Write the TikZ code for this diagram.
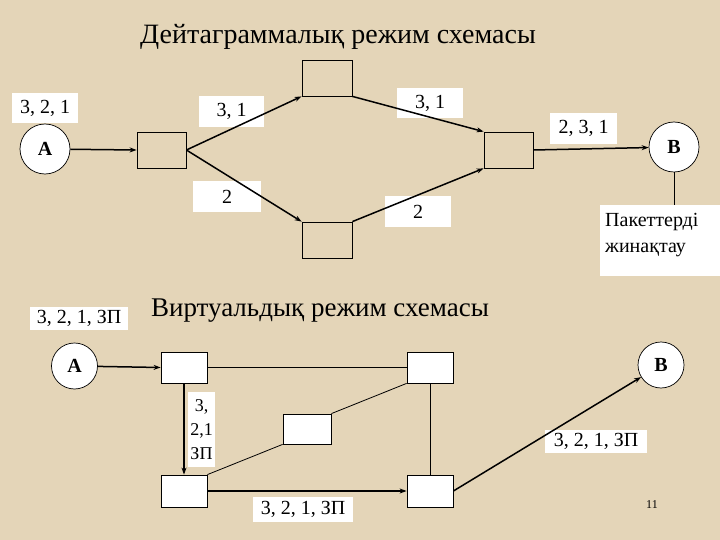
\documentclass[tikz,border=0pt]{standalone}
\usepackage{fontspec}
\setmainfont{Liberation Serif}
\usetikzlibrary{arrows.meta}
\definecolor{parch}{RGB}{228,213,184}
\tikzset{
  lbl/.style={fill=white,inner sep=0pt,font=\fontsize{20}{22}\selectfont,anchor=center},
  rbox/.style={draw=black,line width=0.8pt,inner sep=0pt,anchor=center},
  wbox/.style={rbox,fill=white},
  cnode/.style={circle,draw=black,line width=0.7pt,fill=white,inner sep=0pt,font=\bfseries\fontsize{20}{22}\selectfont},
  thk/.style={line width=1.5pt,-{Stealth[length=7pt,width=5pt]}},
  thn/.style={line width=0.8pt},
  ttl/.style={inner sep=0pt,anchor=center}
}
\begin{document}
\begin{tikzpicture}[x=1pt,y=-1pt]
\fill[parch] (0,0) rectangle (720,540);
\useasboundingbox (0,0) rectangle (720,540);
% top section
\node[ttl,font=\fontsize{28}{30}\selectfont] (t1) at (338,37) {Дейтаграммалық режим схемасы};
\node[lbl,minimum width=66pt,minimum height=30pt] (l321) at (45,108) {3, 2, 1};
\node[cnode,minimum size=50pt] (A1) at (45,149) {A};
\node[rbox,minimum width=49pt,minimum height=36pt] (b1) at (161.5,150) {};
\node[rbox,minimum width=50pt,minimum height=36pt] (bt) at (327,78) {};
\node[rbox,minimum width=50pt,minimum height=36pt] (bb) at (327,240) {};
\node[rbox,minimum width=49pt,minimum height=36pt] (br) at (508.5,150) {};
\node[cnode,minimum size=50pt] (B1) at (674,147) {B};
\node[lbl,minimum width=65pt,minimum height=31pt] (l31a) at (231.5,111.5) {3, 1};
\node[lbl,minimum width=68pt,minimum height=31pt] (l2a) at (227,196.5) {2};
\node[lbl,minimum width=66pt,minimum height=30pt] (l31b) at (430,103) {3, 1};
\node[lbl,minimum width=66pt,minimum height=31pt] (l2b) at (418,211.5) {2};
\node[lbl,minimum width=67pt,minimum height=31pt] (l231) at (583.5,128.5) {2, 3, 1};
\node[fill=white,inner sep=0pt,minimum width=120pt,minimum height=71pt,anchor=center] (pak) at (660,240.5) {};
\node[inner sep=0pt,anchor=west,font=\fontsize{20}{22}\selectfont] (pk1) at (605,222) {Пакеттерді};
\node[inner sep=0pt,anchor=west,font=\fontsize{20}{22}\selectfont] (pk2) at (605,250) {жинақтау};
\draw[thk] (A1) -- (b1.west);
\draw[thk] (b1.east) -- (bt.south west);
\draw[thk] (b1.east) -- (bb.north west);
\draw[thk] (bt.south east) -- (br.north west);
\draw[thk] (bb.north east) -- (br.south west);
\draw[thk] (br.east) -- (B1);
\draw[thn] (B1.south) -- (pak.north -| B1.south);
% bottom section
\node[ttl,font=\fontsize{27}{30}\selectfont] (t2) at (320,311) {Виртуальдық режим схемасы};
\node[lbl,minimum width=98pt,minimum height=23pt] (l321z) at (79,318.5) {3, 2, 1, ЗП};
\node[cnode,minimum size=46pt] (A2) at (74.5,366) {A};
\node[wbox,minimum width=46pt,minimum height=31pt] (c1) at (184,367.5) {};
\node[wbox,minimum width=46pt,minimum height=31pt] (c2) at (430,367.5) {};
\node[wbox,minimum width=46pt,minimum height=32pt] (c3) at (184,491) {};
\node[wbox,minimum width=46pt,minimum height=32pt] (c4) at (430,491) {};
\node[wbox,minimum width=48pt,minimum height=30pt] (cm) at (307,429) {};
\node[cnode,minimum size=46pt] (B2) at (661,365) {B};
\node[fill=white,inner sep=0pt,minimum width=27pt,minimum height=75pt,anchor=center,align=center,font=\fontsize{18}{24}\selectfont] (lv) at (201.5,429.5) {3,\\2,1\\ЗП};
\node[lbl,minimum width=100pt,minimum height=25pt] (lbot) at (303,509.5) {3, 2, 1, ЗП};
\node[lbl,minimum width=102pt,minimum height=23pt] (lrt) at (596,441.5) {3, 2, 1, ЗП};
\node[inner sep=0pt,font=\fontsize{12}{14}\selectfont] (pg) at (652,505) {11};
\draw[thk] (A2) -- (c1.west);
\draw[thn] (c1.east) -- (c2.west);
\draw[thk] (c1.south) -- (c3.north);
\draw[thn] (c3.north east) -- (cm.south west);
\draw[thn] (cm.north east) -- (c2.south west);
\draw[thn] (c2.south) -- (c4.north);
\draw[thk] (c3.east) -- (c4.west);
\draw[thk] (c4.east) -- (B2);
\end{tikzpicture}
\end{document}
